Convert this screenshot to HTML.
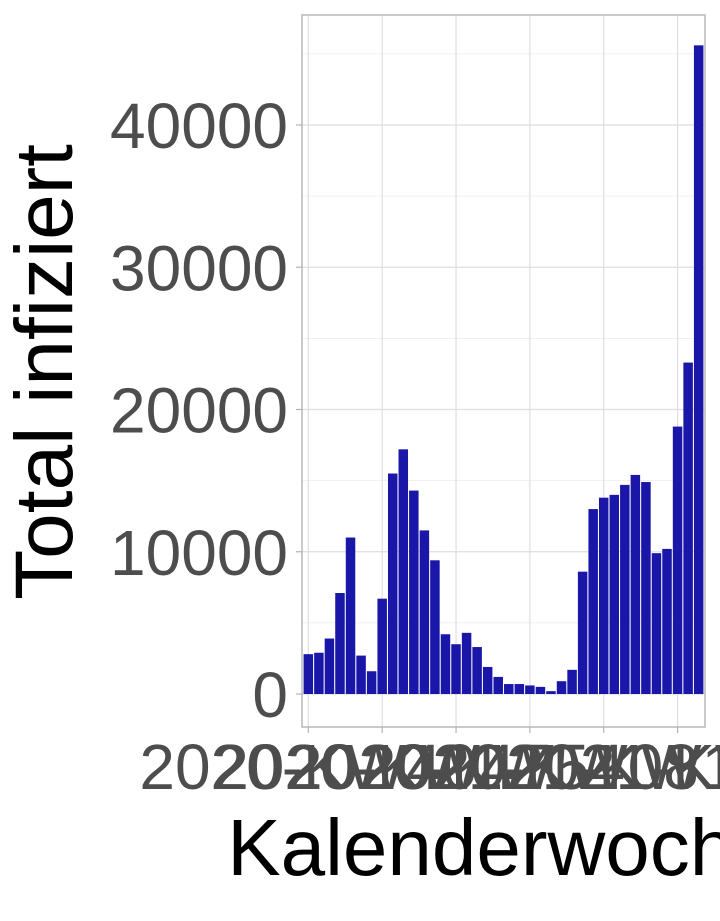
<!DOCTYPE html>
<html><head><meta charset="utf-8"><style>
body{margin:0;background:#fff;overflow:hidden}
svg{display:block;font-family:"Liberation Sans",sans-serif}
</style></head><body>
<svg id="c" width="720" height="921" viewBox="0 0 720 921" xmlns="http://www.w3.org/2000/svg">
<rect width="720" height="921" fill="#fff"/>
<g id="grid"></g><g id="bars"></g><g id="axes"></g>
<text transform="translate(72,372) rotate(-90)" text-anchor="middle" font-size="82" fill="#000">Total infiziert</text>
<text x="503" y="875" text-anchor="middle" font-size="80" fill="#000">Kalenderwoche</text>
</svg>
<script>
const values=[2800,2900,3900,7100,11000,2700,1600,6700,15500,17200,14300,11500,9400,4200,3500,4300,3300,1900,1200,700,700,600,500,200,900,1700,8600,13000,13800,14000,14700,15400,14900,9900,10200,18800,23300,45600];
const yTicks=[0,10000,20000,30000,40000];
const yMinor=[5000,15000,25000,35000,45000];
const xTickIdx=[0,7,14,21,28,35];
const xTickLabels=["2020-KW40","2020-KW47","2020-KW54","2021-KW08","2021-KW15","2021-KW22"];
const NS="http://www.w3.org/2000/svg";
const L=302,R=705,T=15,B=727;
const y0=694,pxPer=(694-125)/40000;
const n=values.length,unit=(R-L)/(n-1+1.2);
const xs=i=>L+(0.6+i)*unit;
const ys=v=>y0-v*pxPer;
function mk(tag,attrs,parent){const e=document.createElementNS(NS,tag);for(const k in attrs)e.setAttribute(k,attrs[k]);parent.appendChild(e);return e;}
const grid=document.getElementById('grid'),bars=document.getElementById('bars'),axes=document.getElementById('axes');
mk('rect',{x:L,y:T,width:R-L,height:B-T,fill:'#fff'},grid);
yMinor.forEach(v=>{const y=ys(v);if(y<T)return;const l=mk('line',{x1:L,x2:R,y1:y,y2:y,stroke:'#ebebeb','stroke-width':0.8},grid);

});
yTicks.forEach(v=>{const y=ys(v);const l=mk('line',{x1:L,x2:R,y1:y,y2:y,stroke:'#dedede','stroke-width':1.2},grid);


const t=mk('text',{x:288,y:y+23,'text-anchor':'end','font-size':64,fill:'#4d4d4d'},axes);t.textContent=v;


const tk=mk('line',{x1:296,x2:302,y1:y,y2:y,stroke:'#b3b3b3','stroke-width':1.2},axes);

});
xTickIdx.forEach((i,k)=>{const x=xs(i);const l=mk('line',{x1:x,x2:x,y1:T,y2:B,stroke:'#dedede','stroke-width':1.2},grid);


const tk=mk('line',{x1:x,x2:x,y1:B,y2:B+6,stroke:'#b3b3b3','stroke-width':1.2},axes);


const t=mk('text',{x:x,y:789,'text-anchor':'middle','font-size':64,fill:'#4d4d4d'},axes);t.textContent=xTickLabels[k];

});
values.forEach((v,i)=>{const w=unit*0.9;const b=mk('rect',{x:xs(i)-w/2,y:ys(v),width:w,height:v*pxPer,fill:'#1a16a8'},bars);

});
const p=mk('rect',{x:L,y:T,width:R-L,height:B-T,fill:'none',stroke:'#b3b3b3','stroke-width':1.4},axes);


</script>
</body></html>
